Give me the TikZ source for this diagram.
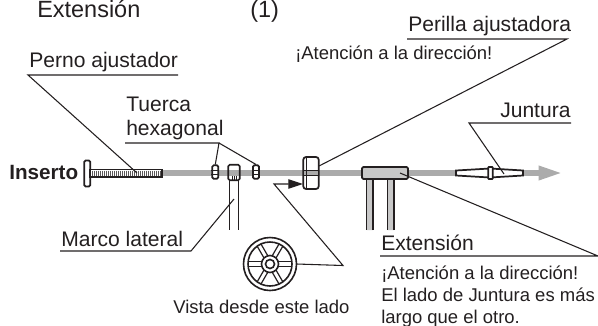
\documentclass[tikz,border=0pt]{standalone}
\usepackage{fontspec}
\setmainfont{Liberation Sans}
\usetikzlibrary{arrows.meta}
\definecolor{ink}{HTML}{231F20}
\definecolor{rod}{HTML}{ABABAB}
\definecolor{block}{HTML}{C8C8C8}
\tikzset{
    lead/.style={ink,line width=0.8pt},
    part/.style={draw=ink,line width=1.3pt,rounded corners=1pt,inner sep=0pt},
    big/.style={ink,anchor=base west,inner sep=0pt,font=\fontsize{15.8}{18}\selectfont},
    small/.style={ink,anchor=base west,inner sep=0pt,font=\fontsize{13.85}{16}\selectfont},
}
\begin{document}
\begin{tikzpicture}[x=0.75pt,y=-0.75pt]
    \useasboundingbox (0,0) rectangle (598,325);
    % rod
    \coordinate (rodL) at (90,173);
    \coordinate (rodR) at (562,173);
    \draw[rod,line width=3.9pt,-{Triangle[length=17.5pt,width=10pt]}] (rodL)--(rodR);
    % titles
    \node[big,font=\fontsize{17.6}{20}\selectfont] (title) at (37,17) {Extensión};
    \node[big,font=\fontsize{17.6}{20}\selectfont] (titleno) at (250,17) {(1)};
    \node[ink,anchor=base west,inner sep=0pt,font=\fontsize{15.5}{18}\selectfont\bfseries] (inserto) at (9,179) {Inserto};
    % adjusting bolt
    \node[part,fill=white,minimum width=4.5pt,minimum height=19.5pt] (bolthead) at (87.3,173.5) {};
    \node[part,fill=white,minimum width=54pt,minimum height=5.5pt,rounded corners=0pt,line width=0.9pt] (shaft) at (126,173.3) {};
    \foreach \x in {92,94,...,160}
        \draw[ink!75,line width=0.6pt] (\x,170.5)--(\x,176);
    % hexagon nuts
    \node[part,fill=white,minimum width=4.5pt,minimum height=10pt] (nutL) at (215.3,172) {};
    \node[part,fill=white,minimum width=4.5pt,minimum height=10pt] (nutR) at (256,172) {};
    \foreach \n in {nutL,nutR}
        \draw[ink,line width=0.5pt] ([yshift=-1.5pt]\n.west)--([yshift=-1.5pt]\n.east)
            ([yshift=1.5pt]\n.west)--([yshift=1.5pt]\n.east);
    % side frame
    \node[part,minimum width=8.5pt,minimum height=11.5pt] (frame) at (234,172.5) {};
    \draw[ink,line width=1.2pt] (229.5,180)--(229.5,230) (238.5,180)--(238.5,230);
    \draw[ink,line width=0.6pt] (232,176)--(232,180) (234,176)--(234,180) (236,176)--(236,180);
    % adjusting knob
    \node[part,fill=white,minimum width=11.5pt,minimum height=24pt,rounded corners=2pt] (knob) at (311,173) {};
    \fill[rod] (304,171)--(318,171)--(318,175)--(304,175)--cycle;
    \draw[ink,line width=0.5pt] (304,170.5)--(318,170.5) (304,175.5)--(318,175.5) (306.5,158)--(306.5,188);
    % extension
    \fill[block] (366.5,179)rectangle(373,230) (387.5,179)rectangle(394,230);
    \draw[ink,line width=1.1pt] (366.5,179)--(366.5,230) (373,179)--(373,230)
        (387.5,179)--(387.5,230) (394,179)--(394,230);
    \node[part,fill=block,minimum width=34.5pt,minimum height=9pt] (extblock) at (385,173) {};
    % joint
    \draw[ink,fill=white,line width=1.3pt] (456,170.5)--(490,168.5)--(523,170.5)--(523,175.5)--(490,177.5)--(456,175.5)--cycle;
    \node[part,fill=white,minimum width=3.5pt,minimum height=9pt,rounded corners=0.5pt] (collar) at (490.5,173) {};
    % wheel
    \coordinate (wheel) at (270,264);
    \foreach \a in {0,60,...,300}
        \draw[ink,line width=0.9pt] (wheel)++(\a+15:8.5) --++(\a:14)
            (wheel)++(\a-15:8.5) --++(\a:14);
    \draw[ink,line width=1.2pt,fill=white] (wheel) circle (8.5);
    \draw[ink,line width=1.2pt] (wheel) circle (4.5) (wheel) circle (22) (wheel) circle (26.5);
    % labels
    \node[big] (perno) at (29,67) {Perno ajustador};
    \node[big] (tuerca) at (126,111) {Tuerca};
    \node[big] (hexagonal) at (126,135) {hexagonal};
    \node[big] (marco) at (61,246) {Marco lateral};
    \node[big] (perilla) at (408,31) {Perilla ajustadora};
    \node[small] (aviso) at (295,59) {¡Atención a la dirección!};
    \node[big] (juntura) at (500,117) {Juntura};
    \node[big] (extension) at (381,250) {Extensión};
    \node[small] (avisob) at (381,279) {¡Atención a la dirección!};
    \node[small] (ladoa) at (381,301) {El lado de Juntura es más};
    \node[small] (ladob) at (381,323) {largo que el otro.};
    \node[small] (vista) at (173,313) {Vista desde este lado};
    % leaders
    \coordinate (pernoL) at (28,75);
    \coordinate (pernoR) at (178,75);
    \coordinate (pernoT) at (137,173);
    \draw[lead] (pernoR)--(pernoL)--(pernoT);
    \coordinate (hexL) at (125,143);
    \coordinate (hexR) at (219,143);
    \draw[lead] (hexL)--(hexR)--(nutL.north);
    \draw[lead] (hexR)--(nutR.north);
    \coordinate (marcoL) at (60,251);
    \coordinate (marcoR) at (191,251);
    \coordinate (marcoT) at (234,199);
    \draw[lead] (marcoL)--(marcoR)--(marcoT);
    \coordinate (perillaL) at (407,39);
    \coordinate (perillaR) at (567,39);
    \coordinate (knobT) at (319,166);
    \draw[lead] (perillaL)--(perillaR)--(knobT);
    \coordinate (junturaL) at (469,123);
    \coordinate (junturaR) at (571,123);
    \coordinate (junturaT) at (504,174);
    \draw[lead] (junturaR)--(junturaL)--(junturaT);
    \coordinate (extL) at (380,256);
    \coordinate (extR) at (598,256);
    \coordinate (extT) at (400,173);
    \draw[lead] (extL)--(extR)--(extT);
    % view pointer
    \coordinate (bend) at (343,265.5);
    \coordinate (tail) at (274,184);
    \coordinate (knobB) at (303,184);
    \draw[lead,-{Triangle[length=11pt,width=7pt]}] (wheel)++(26.5,0)--(bend)--(tail)--(knobB);
\end{tikzpicture}
\end{document}
